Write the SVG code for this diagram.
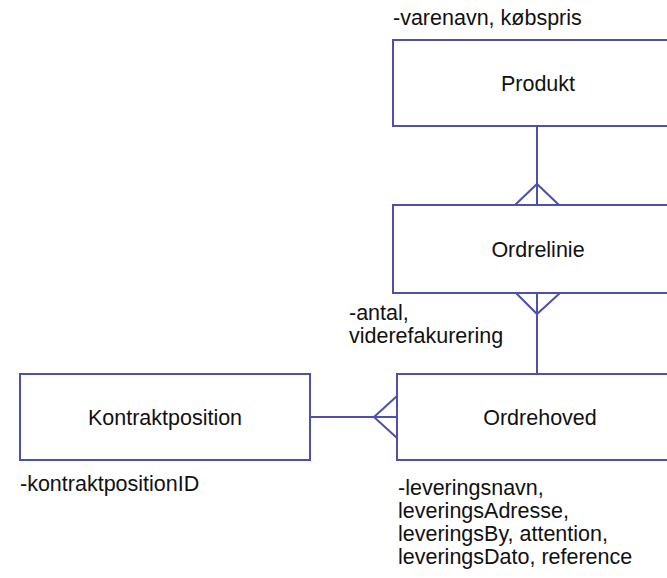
<svg xmlns="http://www.w3.org/2000/svg" width="667" height="578" viewBox="0 0 667 578">
  <style>
    .box { fill: #ffffff; stroke: #4f4fac; stroke-width: 2; }
    .conn { fill: none; stroke: #4f4fac; stroke-width: 2; }
    text { font-family: "Liberation Sans", Arial, sans-serif; font-size: 21.5px; fill: #111111; }
    .mid { text-anchor: middle; }
  </style>
  <rect width="667" height="578" fill="#ffffff"/>

  <!-- relationship lines with crow's feet -->
  <g id="connectors">
    <!-- Produkt 1 — * Ordrelinie -->
    <path class="conn" d="M537 126 V205"/>
    <path class="conn" d="M515 205 L537 184 L559 205"/>
    <!-- Ordrelinie * — 1 Ordrehoved -->
    <path class="conn" d="M537 293 V374"/>
    <path class="conn" d="M516 293 L537 314 L560 293"/>
    <!-- Kontraktposition 1 — * Ordrehoved -->
    <path class="conn" d="M310 417 H397"/>
    <path class="conn" d="M397 396 L374 417 L397 438"/>
  </g>

  <g id="produkt">
    <rect class="box" x="393" y="40" width="290" height="86"/>
    <text x="393" y="25">-varenavn, købspris</text>
    <text class="mid" x="538" y="91">Produkt</text>
  </g>

  <g id="ordrelinie">
    <rect class="box" x="393" y="205" width="290" height="88"/>
    <text class="mid" x="538" y="257">Ordrelinie</text>
    <text x="349" y="320">-antal,</text>
    <text x="349" y="343">viderefakurering</text>
  </g>

  <g id="kontraktposition">
    <rect class="box" x="20" y="374" width="290" height="86"/>
    <text class="mid" x="165" y="425">Kontraktposition</text>
    <text x="20" y="491">-kontraktpositionID</text>
  </g>

  <g id="ordrehoved">
    <rect class="box" x="397" y="374" width="290" height="86"/>
    <text class="mid" x="540" y="425">Ordrehoved</text>
    <text x="398" y="495">-leveringsnavn,</text>
    <text x="398" y="518">leveringsAdresse,</text>
    <text x="398" y="541">leveringsBy, attention,</text>
    <text x="398" y="564">leveringsDato, reference</text>
  </g>
</svg>
